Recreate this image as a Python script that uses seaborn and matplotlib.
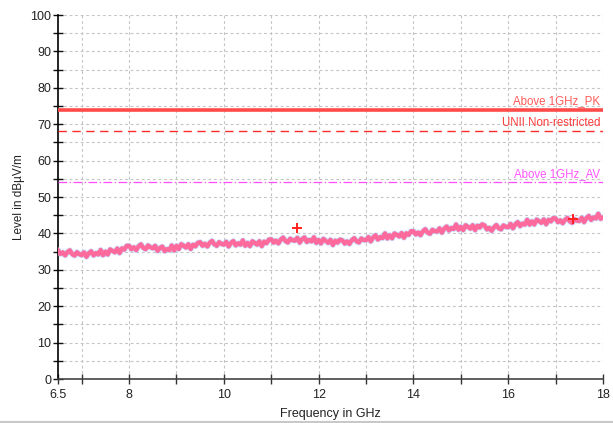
import numpy as np
import pandas as pd
import matplotlib
matplotlib.use("Agg")
import matplotlib.pyplot as plt
from matplotlib.lines import Line2D
import seaborn as sns

# ---- data ----
freq_ghz = [round(6.5 + 0.05 * i, 2) for i in range(231)]
level_dbuv = [
    35.4, 34.35, 34.8, 33.95, 34.9, 35.35, 34.3, 33.9, 34.85, 34.3,
    34.0, 34.8, 33.55, 34.55, 35.1, 33.95, 34.6, 34.2, 35.45, 34.0,
    35.0, 34.2, 35.6, 35.2, 34.8, 35.85, 34.6, 35.9, 35.55, 36.6,
    36.6, 35.65, 36.2, 35.4, 36.45, 37.0, 36.0, 35.65, 36.7, 36.2,
    35.9, 36.6, 35.2, 36.0, 36.4, 35.1, 35.7, 35.4, 36.7, 35.3,
    36.6, 35.7, 37.05, 36.6, 36.1, 37.05, 35.7, 36.9, 36.45, 37.4,
    37.6, 36.6, 37.15, 36.4, 37.4, 37.95, 37.0, 36.6, 37.6, 37.1,
    36.9, 37.7, 36.4, 37.4, 37.9, 36.7, 37.3, 36.9, 38.1, 36.6,
    37.4, 36.5, 37.85, 37.4, 36.9, 37.85, 36.5, 37.75, 37.3, 38.3,
    38.4, 37.45, 38.0, 37.25, 38.3, 38.85, 37.9, 37.5, 38.55, 38.1,
    38.0, 38.8, 37.45, 38.4, 38.9, 37.65, 38.2, 37.8, 38.95, 37.4,
    38.2, 37.25, 38.5, 37.95, 37.4, 38.25, 36.8, 38.0, 37.45, 38.3,
    38.1, 37.2, 37.8, 37.1, 38.15, 38.7, 37.8, 37.5, 38.6, 38.2,
    38.1, 39.0, 37.8, 38.9, 39.5, 38.3, 39.0, 38.7, 40.0, 38.6,
    39.5, 38.65, 40.0, 39.6, 39.15, 40.1, 38.8, 40.05, 39.6, 40.6,
    40.6, 39.7, 40.25, 39.5, 40.6, 41.15, 40.2, 39.9, 41.0, 40.6,
    40.5, 41.4, 40.2, 41.3, 41.9, 40.8, 41.5, 41.2, 42.45, 41.0,
    41.8, 40.9, 42.25, 41.8, 41.3, 42.25, 40.9, 42.1, 41.6, 42.5,
    42.2, 41.1, 41.55, 40.7, 41.7, 42.3, 41.4, 41.1, 42.2, 41.8,
    41.7, 42.6, 41.4, 42.5, 43.1, 42.0, 42.7, 42.4, 43.75, 42.4,
    43.3, 42.45, 43.8, 43.35, 42.9, 43.85, 42.5, 43.75, 43.3, 44.2,
    44.1, 43.1, 43.6, 42.8, 43.75, 44.25, 43.3, 42.9, 43.9, 43.5,
    43.4, 44.3, 43.1, 44.2, 44.8, 43.7, 44.4, 44.1, 45.4, 44.0,
    44.4,
]
marker_freq = [11.55, 17.36]
marker_level = [41.6, 44.0]

limit_names = ["Above 1GHz_PK", "UNII Non-restricted", "Above 1GHz_AV"]
limit_values = [74.0, 68.2, 54.0]

x_ticks = [6.5, 8, 10, 12, 14, 16, 18]
x_tick_labels = ["6.5", "8", "10", "12", "14", "16", "18"]
y_ticks = [0, 10, 20, 30, 40, 50, 60, 70, 80, 90, 100]

# ---- styling ----
sns.set_theme(style="white")
plt.rcParams["font.family"] = ["Liberation Sans", "DejaVu Sans"]

fig = plt.figure(figsize=(6.13, 4.23), dpi=100)
ax = fig.add_axes([58 / 613, 1 - 379 / 423, (603 - 58) / 613, (379 - 15) / 423])

df = pd.DataFrame({"f": freq_ghz, "lvl": level_dbuv})

grid_kw = dict(color="#c4c4c4", linestyle=(0, (2.5, 2.5)), linewidth=0.8, zorder=0)
for xv in np.arange(7, 18.01, 1):
    ax.axvline(xv, **grid_kw)
for yv in np.arange(5, 100.01, 5):
    ax.axhline(yv, **grid_kw)

# limit lines
limit_colors = ["#ff4a4a", "#ff2a2a", "#ff4dff"]
limit_text_colors = ["#ff5a5a", "#ff3a3a", "#ff55ff"]
limit_styles = ["-", (0, (6, 4)), (0, (7, 2, 1, 2))]
limit_widths = [2.6, 1.0, 0.9]
for name, val, c, tc, ls, lw in zip(limit_names, limit_values, limit_colors,
                                    limit_text_colors, limit_styles, limit_widths):
    ax.axhline(val, color=c, linestyle=ls, linewidth=lw, zorder=3)
    ax.text(0.995, val + 0.6, name, transform=ax.get_yaxis_transform(),
            ha="right", va="bottom", fontsize=8.3, color=tc, zorder=4)

# trace (light blue underlay + pink trace)
sns.lineplot(data=df, x="f", y="lvl", ax=ax, color="#b8d4ff", linewidth=4.2,
             alpha=0.7, zorder=4, legend=False)
sns.lineplot(data=df, x="f", y="lvl", ax=ax, color="#ff6a9c", linewidth=3.1,
             zorder=5, legend=False)

sns.scatterplot(x=marker_freq, y=marker_level, ax=ax, marker="+", s=60,
                color="#ff2020", linewidth=1.4, zorder=6)

ax.set_xlim(6.5, 18)
ax.set_ylim(0, 100)
ax.set_xticks(x_ticks)
ax.set_xticklabels(x_tick_labels)
ax.set_xticks(np.arange(7, 18, 2), minor=True)
ax.set_yticks(y_ticks)
ax.set_yticks(np.arange(5, 100, 10), minor=True)

ax.tick_params(axis="both", which="both", direction="inout", length=6.5, width=1,
               labelsize=9, labelcolor="#222222", bottom=True, left=True)
ax.tick_params(axis="x", which="both", color="#333333", pad=4)
ax.tick_params(axis="y", which="both", color="#111111", pad=1.5)

for s in ["top", "right"]:
    ax.spines[s].set_visible(False)
ax.spines["left"].set_color("#000000")
ax.spines["left"].set_linewidth(1.2)
ax.spines["bottom"].set_color("#444444")
ax.spines["bottom"].set_linewidth(1.2)

ax.set_xlabel("Frequency in GHz", fontsize=9, color="#222222", labelpad=5)
ax.set_ylabel("Level in dBµV/m", fontsize=8.5, color="#222222", labelpad=4)

fig.add_artist(Line2D([0, 1], [1.5 / 423, 1.5 / 423], transform=fig.transFigure,
                      color="#c8c8c8", linewidth=1.5))

fig.savefig("out.png", dpi=100)
